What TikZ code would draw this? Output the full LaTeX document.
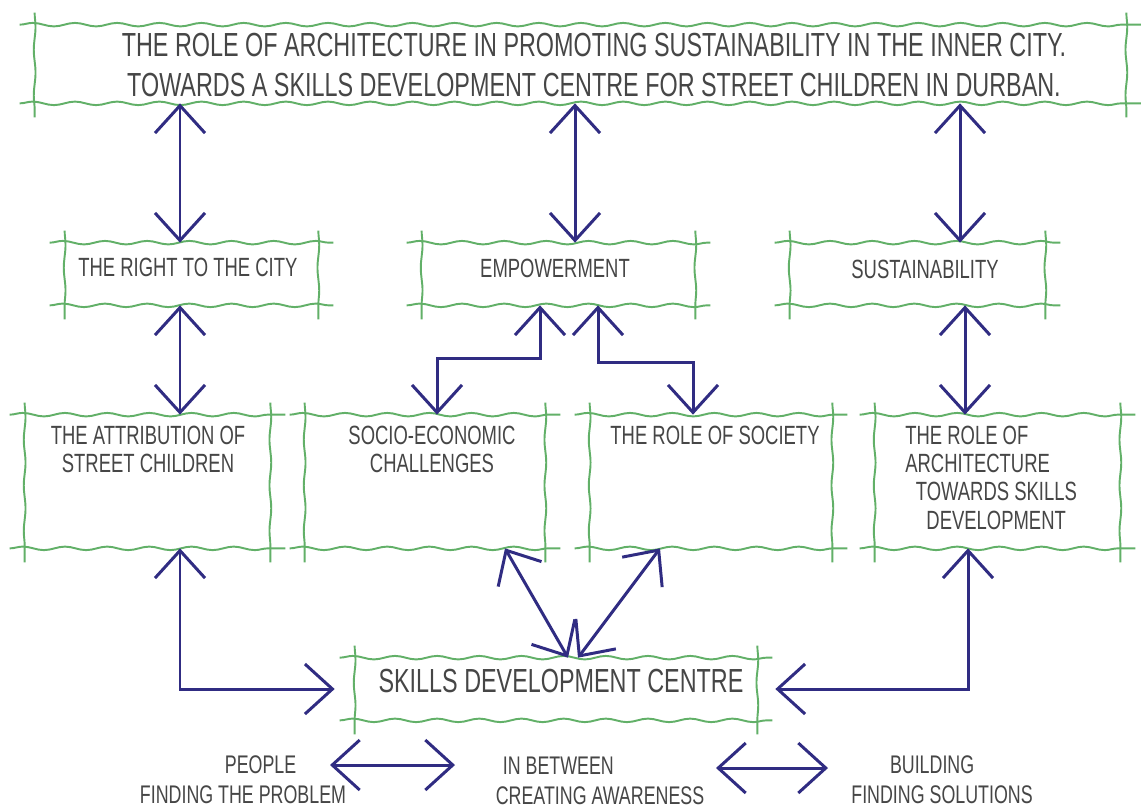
\documentclass[tikz,border=0pt]{standalone}
\usepackage{fontspec}
\newfontfamily\hand[FakeStretch=0.7]{Liberation Sans}
\usetikzlibrary{arrows.meta,decorations.pathmorphing,fit,calc}
\definecolor{boxgreen}{RGB}{98,176,104}
\definecolor{inkblue}{RGB}{48,44,130}
\definecolor{pencil}{RGB}{70,70,70}
\tikzset{
 boxn/.style={inner sep=0pt, draw=none},
 gline/.style={draw=boxgreen, line width=1.1pt},
 hwave/.style={decorate, decoration={snake, amplitude=1pt, segment length=24pt}},
 vwave/.style={decorate, decoration={snake, amplitude=0.5pt, segment length=26pt}},
 txt/.style={text=pencil, font=\hand\fontsize{15}{16}\selectfont, inner sep=0pt, align=center},
 bigtxt/.style={txt, font=\hand\fontsize{19}{23}\selectfont},
 sdctxt/.style={txt, font=\hand\fontsize{19}{20}\selectfont},
 lowtxt/.style={txt, font=\hand\fontsize{14.5}{17}\selectfont},
 arr/.style={draw=inkblue, line width=1.7pt, >={Straight Barb[length=0.55cm,width=1.0cm]}, <->},
}
\newcommand\sketchframe[1]{%
 \draw[gline,hwave] ($(#1.north west)+(-15,0)$) -- ($(#1.north east)+(15,0)$);
 \draw[gline,hwave] ($(#1.south west)+(-15,0)$) -- ($(#1.south east)+(15,0)$);
 \draw[gline,vwave] ($(#1.north west)+(0,-12)$) -- ($(#1.south west)+(0,14)$);
 \draw[gline,vwave] ($(#1.north east)+(0,-12)$) -- ($(#1.south east)+(0,14)$);
}
\begin{document}
\begin{tikzpicture}[x=0.02cm,y=-0.02cm]
\useasboundingbox (0,0) rectangle (1141,809);
\fill[white] (0,0) rectangle (1141,809);

% boxes
\node[boxn, fit={(35,25) (1126,103)}] (title) {};
\node[boxn, fit={(65,243) (318,305)}] (rtc) {};
\node[boxn, fit={(422,243) (695,305)}] (emp) {};
\node[boxn, fit={(790,243) (1045,305)}] (sust) {};
\node[boxn, fit={(25,415) (270,548)}] (attr) {};
\node[boxn, fit={(305,415) (545,548)}] (socio) {};
\node[boxn, fit={(590,415) (832,548)}] (soc) {};
\node[boxn, fit={(875,415) (1120,548)}] (arch) {};
\node[boxn, fit={(355,658) (757,720)}] (sdc) {};
\foreach \b in {title,rtc,emp,sust,attr,socio,soc,arch,sdc} {\sketchframe{\b}}

% texts
\node[bigtxt] (title-t) at (594,65) {THE ROLE OF ARCHITECTURE IN PROMOTING SUSTAINABILITY IN THE INNER CITY.\\TOWARDS A SKILLS DEVELOPMENT CENTRE FOR STREET CHILDREN IN DURBAN.};
\node[txt, anchor=west] (rtc-t) at (78,267) {THE RIGHT TO THE CITY};
\node[txt] (emp-t) at (555,268) {EMPOWERMENT};
\node[txt] (sust-t) at (925,269) {SUSTAINABILITY};
\node[txt, anchor=north] (attr-t) at (148,426) {THE ATTRIBUTION OF\\STREET CHILDREN};
\node[txt, anchor=north] (socio-t) at (432,426) {SOCIO-ECONOMIC\\CHALLENGES};
\node[txt, anchor=north] (soc-t) at (715,426) {THE ROLE OF SOCIETY};
\node[txt, anchor=north west, align=left] (arch-t) at (905,426) {THE ROLE OF\\ARCHITECTURE\\\hspace{6pt}TOWARDS SKILLS\\\hspace{12pt}DEVELOPMENT};
\node[sdctxt] (sdc-t) at (561,681) {SKILLS DEVELOPMENT CENTRE};
\node[lowtxt] (people) at (243,780) {\hspace{20pt}PEOPLE\\FINDING THE PROBLEM};
\node[lowtxt, align=left] (inb) at (600,781) {\hspace{4pt}IN BETWEEN\\CREATING AWARENESS};
\node[lowtxt, align=left] (bld) at (942,780) {\hspace{22pt}BUILDING\\FINDING SOLUTIONS};

% connectors
\draw[arr] (180,0 |- title.south) -- (180,0 |- rtc.north);
\draw[arr] (575,0 |- title.south) -- (575,0 |- emp.north);
\draw[arr] (960,0 |- title.south) -- (960,0 |- sust.north);
\draw[arr] (180,0 |- rtc.south) -- (180,0 |- attr.north);
\draw[arr] (965,0 |- sust.south) -- (965,0 |- arch.north);
\draw[arr] (540,0 |- emp.south) -- (540,358) -- (437,358) -- (437,0 |- socio.north);
\draw[arr] (598,0 |- emp.south) -- (598,362) -- (693,362) -- (693,0 |- soc.north);
\draw[arr, shorten >=0.4cm] (180,0 |- attr.south) |- (sdc.west);
\draw[arr, shorten >=0.36cm] (968,0 |- arch.south) |- (sdc.east);
\draw[arr] (505,0 |- socio.south) -- (568,0 |- sdc.north);
\draw[arr] (660,0 |- soc.south) -- (578,0 |- sdc.north);
\coordinate (pa) at (330,765);
\coordinate (ia) at (455,765);
\coordinate (ib) at (716,768);
\coordinate (ba) at (828,768);
\draw[arr] (pa) -- (ia);
\draw[arr] (ib) -- (ba);
\end{tikzpicture}
\end{document}
